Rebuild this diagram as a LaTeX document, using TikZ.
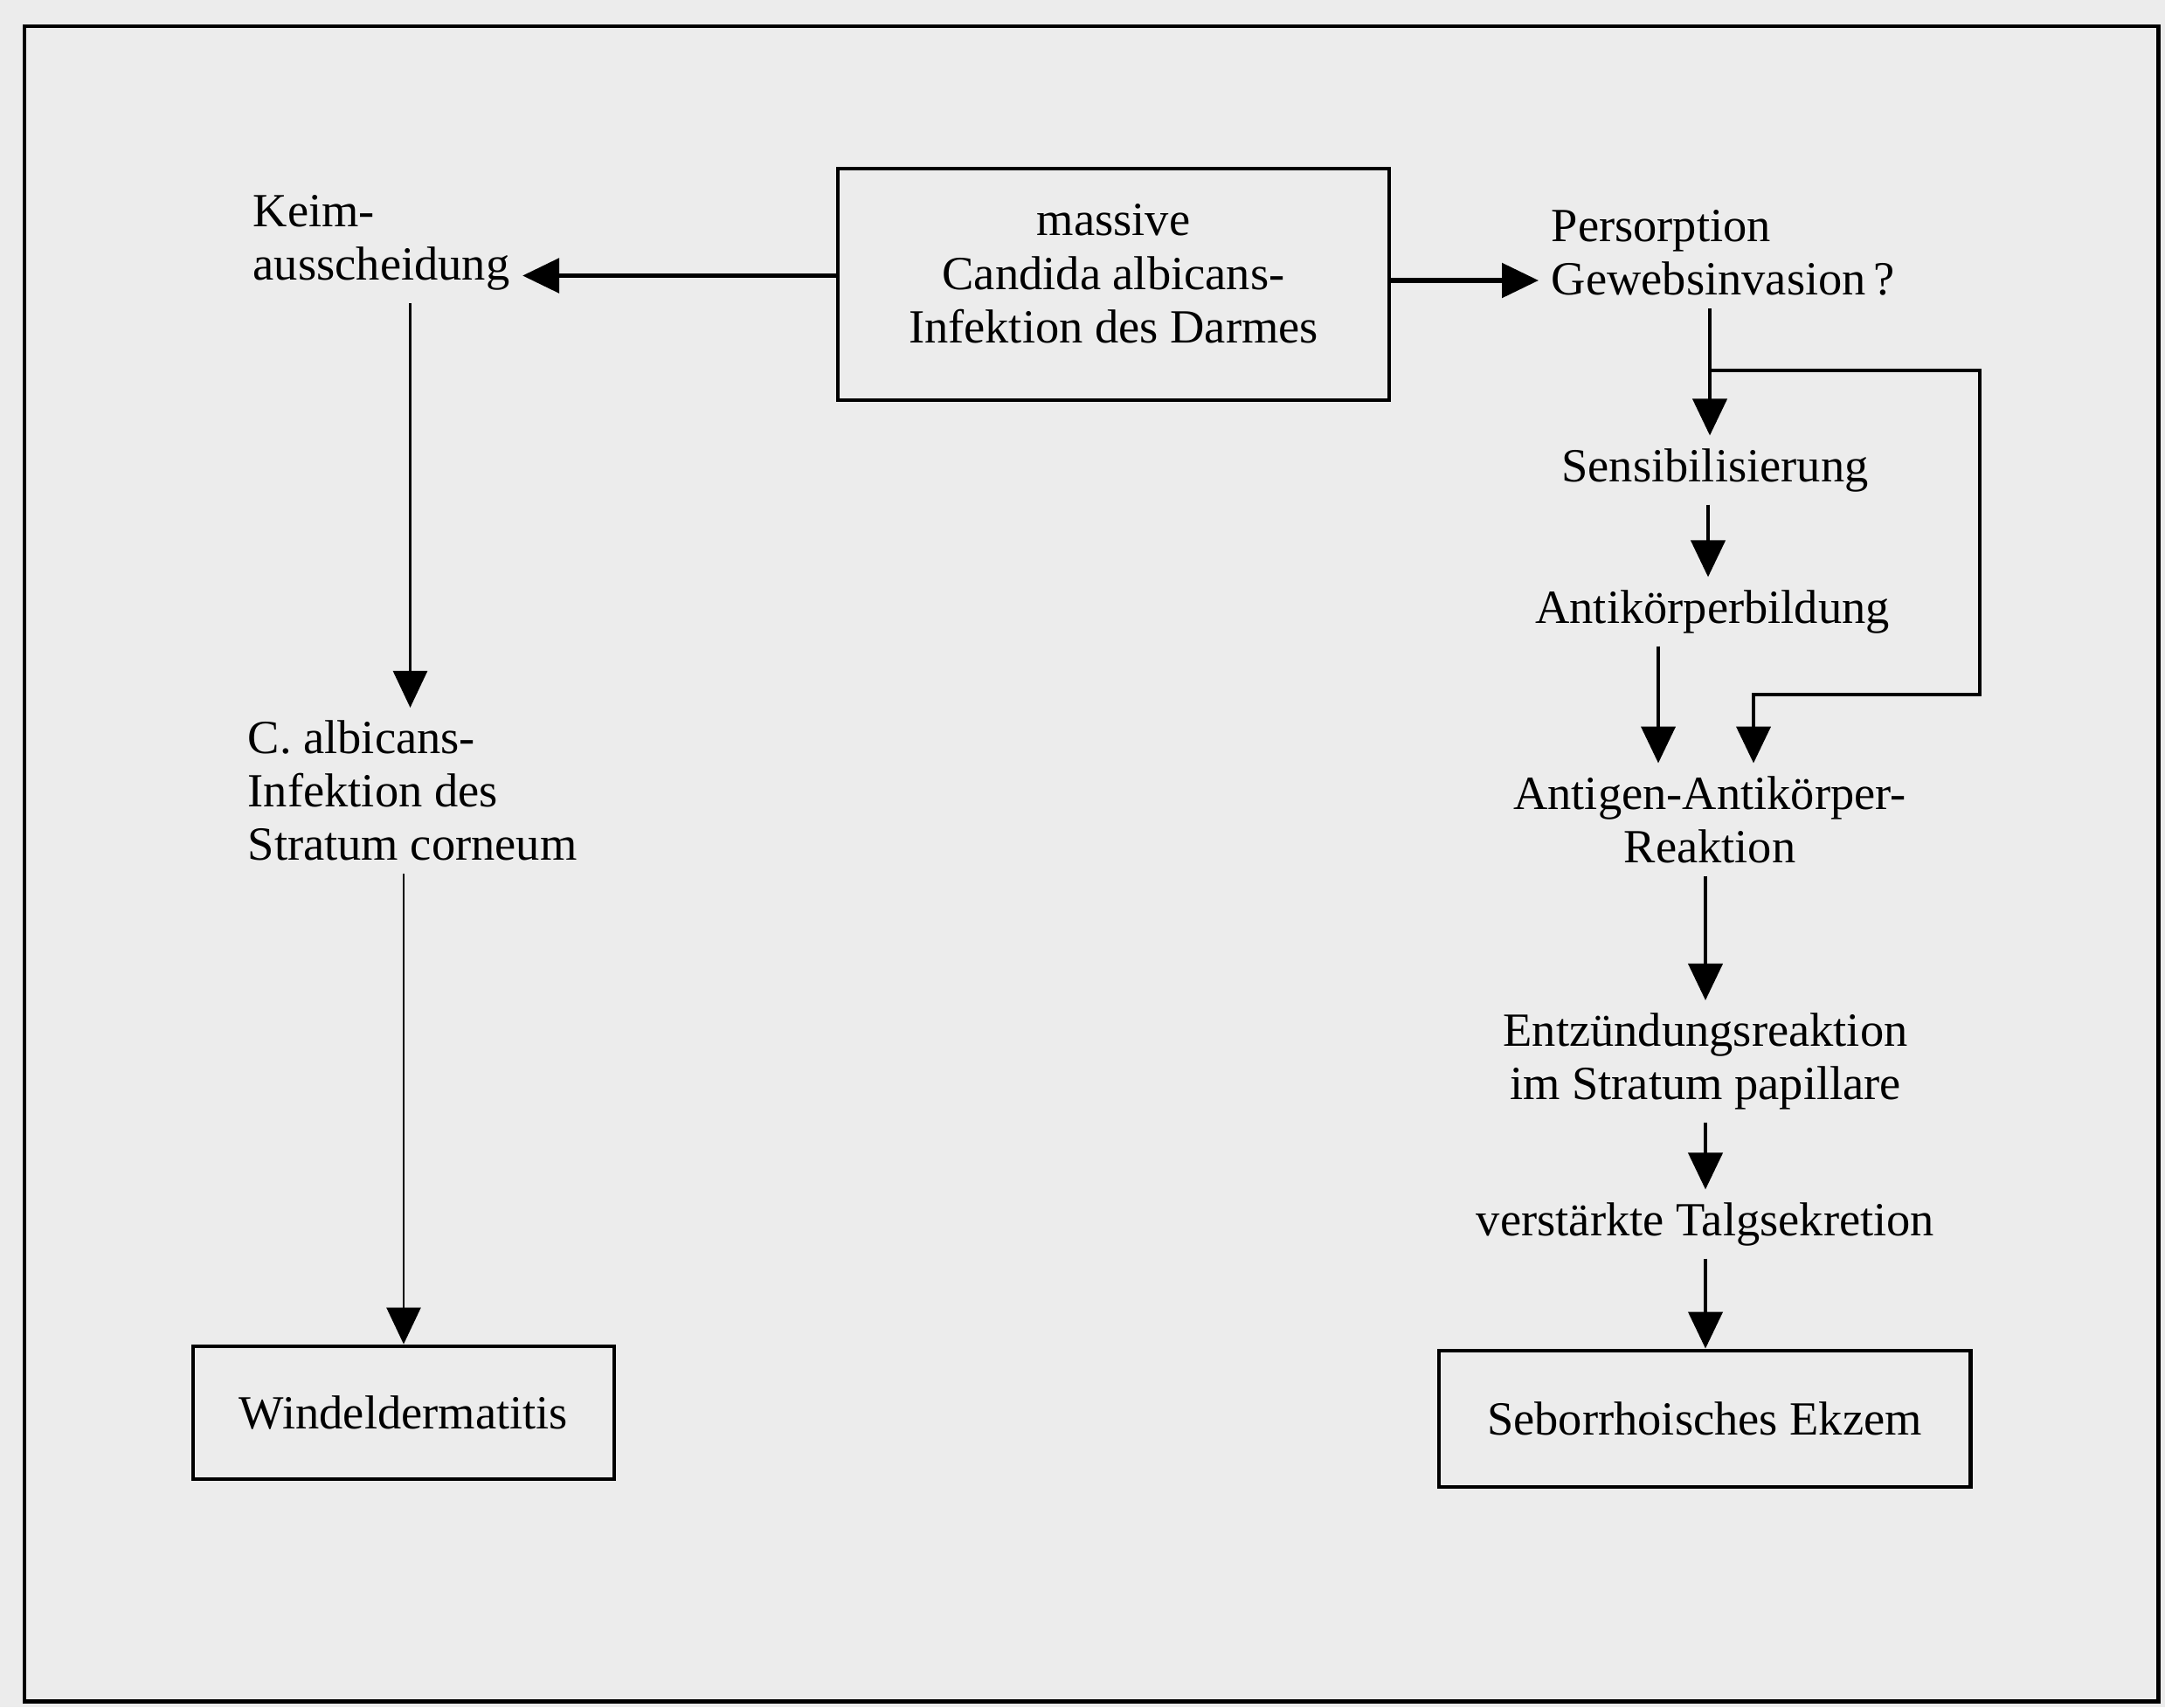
\documentclass[tikz,border=0pt]{standalone}
\usepackage{fontspec}
\setmainfont{Liberation Serif}
\usetikzlibrary{arrows.meta}
\definecolor{paper}{RGB}{236,236,236}
\begin{document}
\begin{tikzpicture}[
        txt/.style={font=\fontsize{15.5}{17.4}\selectfont, inner sep=4pt},
        box/.style={draw, line width=1.4pt, txt},
        arr/.style={-{Triangle[length=0.42cm, width=0.39cm]}, line width=1.2pt},
        harr/.style={arr, line width=1.6pt},
        thinarr/.style={arr, line width=0.8pt}]
        \fill[paper] (0,0) rectangle (24.78,-19.54);
        \useasboundingbox (0,0) rectangle (24.78,-19.54);
        \draw[line width=1.4pt] (0.28,-0.30) rectangle (24.70,-19.47);

        \node[box, minimum width=6.31cm, minimum height=2.65cm, align=center, text depth=0.25cm] at (12.745,-3.255) (darm) {massive\\Candida albicans-\\Infektion des Darmes};
        \node[txt, anchor=west, align=left] at (2.75,-2.78) (keim) {Keim-\\ausscheidung};
        \node[txt, anchor=west, align=left] at (17.61,-2.895) (pers) {Persorption\\Gewebsinvasion\,?};
        \node[txt, anchor=west, align=left] at (2.69,-9.05) (calb) {C. albicans-\\Infektion des\\Stratum corneum};
        \node[box, minimum width=4.82cm, minimum height=1.52cm] at (4.62,-16.17) (wind) {Windeldermatitis};

        \node[txt] at (19.63,-5.38) (sens) {Sensibilisierung};
        \node[txt] at (19.60,-7.00) (anti) {Antikörperbildung};
        \node[txt, align=center] at (19.57,-9.38) (agak) {Antigen-Antikörper-\\Reaktion};
        \node[txt, align=center] at (19.52,-12.15) (entz) {Entzündungsreaktion\\im Stratum papillare};
        \node[txt] at (19.52,-14.01) (talg) {verstärkte Talgsekretion};
        \node[box, minimum width=6.08cm, minimum height=1.56cm] at (19.51,-16.24) (sebo) {Seborrhoisches Ekzem};

        \coordinate (split) at (19.57,-4.24);
        \coordinate (loop) at (22.66,-7.95);

        \draw[harr] ([yshift=1mm]darm.west) -- ([yshift=1mm]darm.west -| keim.east);
        \draw[harr] ([yshift=0.45mm]darm.east) -- ([yshift=0.45mm]darm.east -| pers.west);

        \draw[thinarr] ([xshift=3.3mm]keim.south) -- ([xshift=3.3mm]keim.south |- calb.north);
        \draw[thinarr] (calb.south -| wind.north) -- (wind.north);

        \draw[line width=1.2pt] (split |- pers.south) -- (split);
        \draw[arr] (split) -- (split |- sens.north);
        \draw[arr] (split) -| (loop) -| ([xshift=5mm]agak.north);
        \draw[arr] ([xshift=-0.8mm]sens.south) -- ([xshift=-0.8mm]sens.south |- anti.north);
        \draw[arr] ([xshift=-6.2mm]anti.south) -- ([xshift=-6.2mm]anti.south |- agak.north);
        \draw[arr] (entz.north |- agak.south) -- (entz.north);
        \draw[arr] (entz.south) -- (talg.north);
        \draw[arr] (talg.south) -- (talg.south |- sebo.north);
    \end{tikzpicture}
\end{document}
